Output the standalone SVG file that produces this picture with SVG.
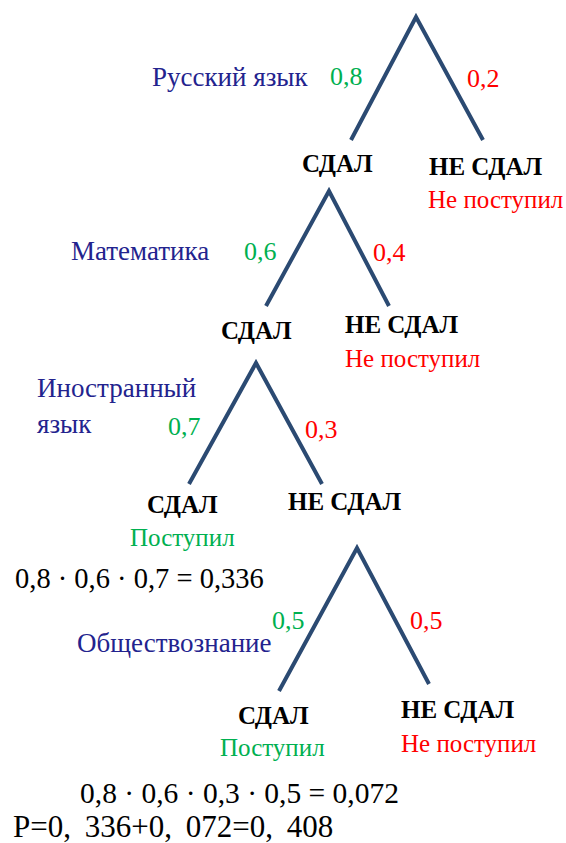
<svg xmlns="http://www.w3.org/2000/svg" width="566" height="843" viewBox="0 0 566 843">
<rect width="566" height="843" fill="#FFFFFF"/>

<g id="connectors" stroke="#2B4A72" stroke-width="4" fill="none">
  <polyline points="351,140 416,17 483,140"/>
  <polyline points="266,306 329,191 389,306"/>
  <polyline points="189,484 256,363 322,484"/>
  <polyline points="279,691 357,548 429,684"/>
</g>

<g id="level1">
  <text x="152" y="86" font-family="Liberation Serif" font-size="27" fill="#23238E">Русский язык</text>
  <text x="330" y="85" font-family="Liberation Serif" font-size="26" fill="#00B050">0,8</text>
  <text x="467" y="87" font-family="Liberation Serif" font-size="26" fill="#FF0000">0,2</text>
</g>
<g id="node-sdal-1">
  <text x="302" y="172" font-family="Liberation Serif" font-size="25" font-weight="bold" fill="#000000">СДАЛ</text>
</g>
<g id="node-nesdal-1">
  <text x="429" y="175" font-family="Liberation Serif" font-size="25" font-weight="bold" fill="#000000">НЕ СДАЛ</text>
  <text x="428" y="208" font-family="Liberation Serif" font-size="25" fill="#FF0000">Не поступил</text>
</g>

<g id="level2">
  <text x="71" y="260" font-family="Liberation Serif" font-size="27" fill="#23238E">Математика</text>
  <text x="244" y="260" font-family="Liberation Serif" font-size="26" fill="#00B050">0,6</text>
  <text x="373" y="261" font-family="Liberation Serif" font-size="26" fill="#FF0000">0,4</text>
</g>
<g id="node-sdal-2">
  <text x="221" y="339" font-family="Liberation Serif" font-size="25" font-weight="bold" fill="#000000">СДАЛ</text>
</g>
<g id="node-nesdal-2">
  <text x="345" y="333" font-family="Liberation Serif" font-size="25" font-weight="bold" fill="#000000">НЕ СДАЛ</text>
  <text x="345" y="367" font-family="Liberation Serif" font-size="25" fill="#FF0000">Не поступил</text>
</g>

<g id="level3">
  <text x="37" y="397" font-family="Liberation Serif" font-size="27" fill="#23238E">Иностранный</text>
  <text x="37" y="433" font-family="Liberation Serif" font-size="27" fill="#23238E">язык</text>
  <text x="168" y="435" font-family="Liberation Serif" font-size="26" fill="#00B050">0,7</text>
  <text x="305" y="438" font-family="Liberation Serif" font-size="26" fill="#FF0000">0,3</text>
</g>
<g id="node-sdal-3">
  <text x="147" y="513" font-family="Liberation Serif" font-size="25" font-weight="bold" fill="#000000">СДАЛ</text>
  <text x="130" y="546" font-family="Liberation Serif" font-size="25" fill="#00B050">Поступил</text>
</g>
<g id="node-nesdal-3">
  <text x="288" y="510" font-family="Liberation Serif" font-size="25" font-weight="bold" fill="#000000">НЕ СДАЛ</text>
</g>
<g id="eq1">
  <text x="15" y="588" font-family="Liberation Serif" font-size="28.5" fill="#000000">0,8 · 0,6 · 0,7 = 0,336</text>
</g>

<g id="level4">
  <text x="77" y="652" font-family="Liberation Serif" font-size="27" fill="#23238E">Обществознание</text>
  <text x="272" y="629" font-family="Liberation Serif" font-size="26" fill="#00B050">0,5</text>
  <text x="410" y="629" font-family="Liberation Serif" font-size="26" fill="#FF0000">0,5</text>
</g>
<g id="node-sdal-4">
  <text x="238" y="724" font-family="Liberation Serif" font-size="25" font-weight="bold" fill="#000000">СДАЛ</text>
  <text x="220" y="756" font-family="Liberation Serif" font-size="25" fill="#00B050">Поступил</text>
</g>
<g id="node-nesdal-4">
  <text x="401" y="718" font-family="Liberation Serif" font-size="25" font-weight="bold" fill="#000000">НЕ СДАЛ</text>
  <text x="401" y="752" font-family="Liberation Serif" font-size="25" fill="#FF0000">Не поступил</text>
</g>
<g id="eq2">
  <text x="80" y="803" font-family="Liberation Serif" font-size="29.5" fill="#000000">0,8 · 0,6 · 0,3 · 0,5 = 0,072</text>
</g>
<g id="total">
  <text x="13" y="837" font-family="Liberation Serif" font-size="31" word-spacing="6" fill="#000000">P=0, 336+0, 072=0, 408</text>
</g>
</svg>
